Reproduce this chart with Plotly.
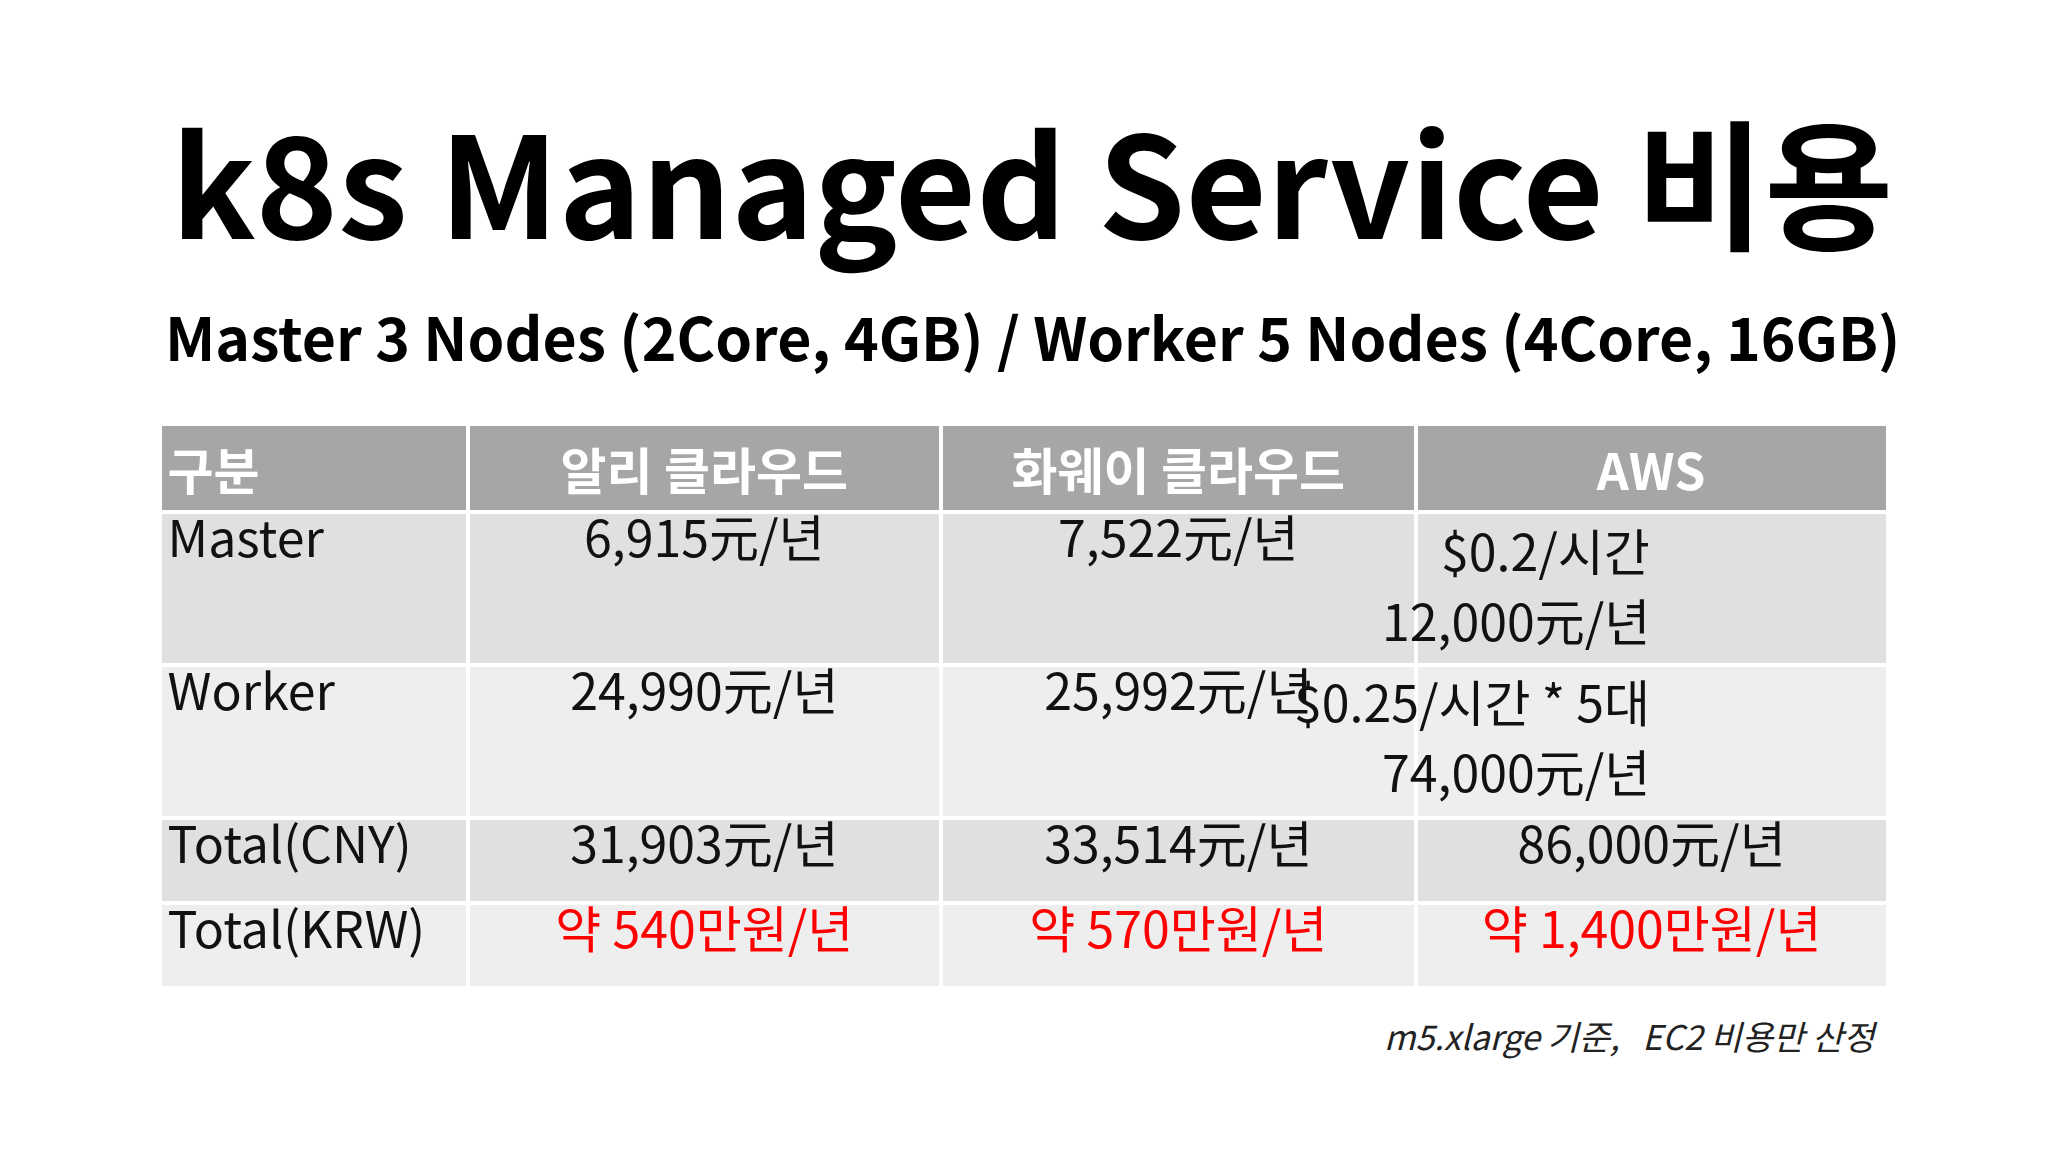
import plotly.graph_objects as go

FONT = "Noto Sans CJK KR"
W, H = 2048, 1152

title = "k8s Managed Service 비용"
subtitle = "Master 3 Nodes (2Core, 4GB) / Worker 5 Nodes (4Core, 16GB)"
footnote = "m5.xlarge 기준,   EC2 비용만 산정"

headers = ["구분", "알리 클라우드", "화웨이 클라우드", "AWS"]
row_labels = ["Master", "Worker", "Total(CNY)", "Total(KRW)"]
ali = ["6,915元/년", "24,990元/년", "31,903元/년", "약 540만원/년"]
huawei = ["7,522元/년", "25,992元/년", "33,514元/년", "약 570만원/년"]
aws = ["$0.2/시간<br>12,000元/년", "$0.25/시간 * 5대<br>74,000元/년", "86,000元/년", "약 1,400만원/년"]

col_widths = [235, 361, 362, 360]
row_fill = ["#e0e0e0", "#eeeeee", "#e0e0e0", "#eeeeee"]
value_color = ["#111111", "#111111", "#111111", "#ff0000"]

x_dom = [0.074, 0.918]
y_dom = [0.136, 0.639]
header_h = 85
two_line_h = 151

# multi-line cells in plotly tables lose centering, so keep the row height
# with blank lines and overlay the text as centered annotations
aws_cells = [" <br> " if "<br>" in t else t for t in aws]

fig = go.Figure()
fig.add_trace(go.Table(
    domain=dict(x=x_dom, y=y_dom),
    columnwidth=col_widths,
    header=dict(
        values=[f"<b>{h}</b>" for h in headers],
        fill_color="#a6a6a6",
        line=dict(color="white", width=4),
        align=["left", "center", "center", "center"],
        font=dict(family=FONT, size=50, color="white"),
        height=header_h,
    ),
    cells=dict(
        values=[row_labels, ali, huawei, aws_cells],
        fill_color=[row_fill] * 4,
        line=dict(color="white", width=4),
        align=["left", "center", "center", "center"],
        font=dict(family=FONT, size=50,
                  color=[["#111111"] * 4, value_color, value_color, value_color]),
        height=85,
    ),
))

# overlay the two-line AWS cells
tw = (x_dom[1] - x_dom[0])
aws_x = x_dom[0] + tw * (sum(col_widths[:3]) + col_widths[3] / 2) / sum(col_widths)
top_px = H * (1 - y_dom[1])
row_top = top_px + header_h
for t in aws:
    if "<br>" in t:
        for k, line in enumerate(t.split("<br>")):
            py = row_top + 40 + 70 * k
            fig.add_annotation(text=line, x=aws_x, y=1 - py / H, xref="paper", yref="paper",
                               showarrow=False, yanchor="middle",
                               font=dict(family=FONT, size=50, color="#111111"))
        row_top += two_line_h
    else:
        row_top += 85

fig.add_annotation(text=f"<b>{title}</b>", x=0.5, y=0.852, xref="paper", yref="paper",
                   yanchor="middle", showarrow=False,
                   font=dict(family=FONT, size=140, color="black"))
fig.add_annotation(text=f"<b>{subtitle}</b>", x=0.5, y=0.716, xref="paper", yref="paper",
                   yanchor="middle", showarrow=False,
                   font=dict(family=FONT, size=59, color="black"))
fig.add_annotation(text=f"<i>{footnote}</i>", x=0.914, y=0.108, xref="paper", yref="paper",
                   xanchor="right", yanchor="middle", showarrow=False,
                   font=dict(family=FONT, size=34, color="#222222"))

fig.update_layout(width=W, height=H, margin=dict(l=0, r=0, t=0, b=0),
                  paper_bgcolor="white", plot_bgcolor="white")
fig.write_html("out.html")
